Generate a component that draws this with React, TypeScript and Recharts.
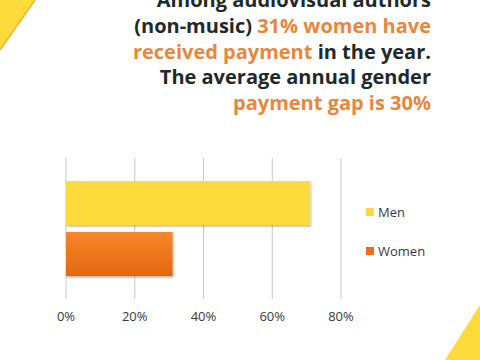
import { BarChart, Bar, XAxis, YAxis, CartesianGrid } from "recharts";

const categories = ["Payment received"];
const menValues = [71];
const womenValues = [31];
const xTicks = [0, 20, 40, 60, 80];
const seriesNames = ["Men", "Women"];

const headline = [
  [{ t: "Among audiovisual authors", hi: false }],
  [
    { t: "(non-music) ", hi: false },
    { t: "31% women have", hi: true },
  ],
  [
    { t: "received payment", hi: true },
    { t: " in the year.", hi: false },
  ],
  [{ t: "The average annual gender", hi: false }],
  [{ t: "payment gap is 30%", hi: true }],
];

const data = categories.map((name, i) => ({
  name,
  Men: menValues[i],
  Women: womenValues[i],
}));

const DARK = "#1e2a29";
const ORANGE = "#e8873b";
const YELLOW = "#fcdb3a";
const legendColors = ["#fbd840", "#ec6f1c"];

function LegendBox() {
  return (
    <div
      style={{
        position: "absolute",
        left: 366,
        top: 202,
        fontFamily: "'Open Sans', sans-serif",
        fontSize: 13,
        color: "#3a3a3a",
      }}
    >
      {seriesNames.map((label, i) => (
        <div
          key={label}
          style={{ display: "flex", alignItems: "center", height: 20, marginBottom: i === 0 ? 19 : 0 }}
        >
          <span style={{ width: 8, height: 8, background: legendColors[i], display: "inline-block", marginRight: 4 }} />
          {label}
        </div>
      ))}
    </div>
  );
}

export default function App() {
  return (
    <div style={{ position: "absolute", left: 0, top: 0, width: 480, height: 360, background: "#fff", overflow: "hidden" }}>
      <svg width={480} height={360} style={{ position: "absolute", left: 0, top: 0 }}>
        <polygon points="0,0 35,0 0,50" fill={YELLOW} />
        <line x1={35} y1={0} x2={0} y2={50} stroke="#f2b23a" strokeWidth={1.5} />
        <polygon points="480,305 445,360 480,360" fill={YELLOW} />
        <text textAnchor="end" fontFamily="'Open Sans', sans-serif" fontWeight={700} fontSize={20}>
          {headline.map((line, li) => (
            <tspan key={li} x={431} y={7 + li * 25.8}>
              {line.map((seg, si) => (
                <tspan key={si} fill={seg.hi ? ORANGE : DARK}>{seg.t}</tspan>
              ))}
            </tspan>
          ))}
        </text>
      </svg>
      <div style={{ position: "absolute", left: 0, top: 0 }}>
        <BarChart
          width={480}
          height={360}
          data={data}
          layout="vertical"
          margin={{ top: 158, right: 139, bottom: 0, left: 66 }}
          barSize={44}
          barGap={7}
        >
          <defs>
            <linearGradient id="womenGrad" x1="0" y1="0" x2="0" y2="1">
              <stop offset="0%" stopColor="#f8862c" />
              <stop offset="100%" stopColor="#e2680f" />
            </linearGradient>
            <filter id="barShadow" x="-5%" y="-10%" width="115%" height="130%">
              <feDropShadow dx="1" dy="1.5" stdDeviation="1.2" floodColor="#000" floodOpacity="0.3" />
            </filter>
          </defs>
          <CartesianGrid horizontal={false} stroke="#c8c8c8" />
          <XAxis
            type="number"
            domain={[0, 80]}
            ticks={xTicks}
            tickFormatter={(v) => `${v}%`}
            axisLine={false}
            tickLine={false}
            tickMargin={7}
            tick={{ fontSize: 13, fill: "#3a3a3a", fontFamily: "'Open Sans', sans-serif" }}
            height={61}
          />
          <YAxis type="category" dataKey="name" hide />
          <Bar dataKey="Men" fill="#fcdb3b" filter="url(#barShadow)" isAnimationActive={false} />
          <Bar dataKey="Women" fill="url(#womenGrad)" filter="url(#barShadow)" isAnimationActive={false} />
        </BarChart>
      </div>
      <LegendBox />
    </div>
  );
}
